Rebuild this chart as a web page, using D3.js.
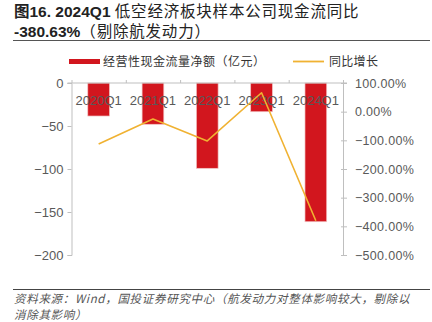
<!DOCTYPE html>
<html><head><meta charset="utf-8">
<script src="https://cdn.jsdelivr.net/npm/d3@7"></script>
<style>
html,body{margin:0;padding:0;background:#fff;}
svg{display:block;}
</style></head>
<body>
<svg id="c" width="432" height="322"></svg>
<script>
const categories = ["2020Q1","2021Q1","2022Q1","2023Q1","2024Q1"];
const cashFlow = [-38.4, -48, -99.2, -33.4, -161.3];      // 经营性现金流量净额（亿元）
const yoyGrowth = [-112.5, -25.4, -102, 66, -380.63];     // 同比增长 (%)
const leftTicks = [0, -50, -100, -150, -200];
const rightTicks = [100, 0, -100, -200, -300, -400, -500];
const legendLabels = ["经营性现金流量净额（亿元）", "同比增长"];
const titleLines = [["图16. 2024Q1", " 低空经济板块样本公司现金流同比"], ["-380.63%", "（剔除航发动力）"]];
const sourceLines = ["资料来源：Wind，国投证券研究中心（航发动力对整体影响较大，剔除以", "消除其影响）"];

const svg = d3.select("#c");
const FONT = "'Liberation Sans', Arial, 'Noto Sans CJK SC', sans-serif";
const CJK = "'Noto Sans CJK SC', sans-serif";
const AX = "#bfbfbf", TXT = "#595959";
const RED = "#d2161e", ORANGE = "#f0b232";

const plot = {left: 71.5, right: 343, top: 83, bottom: 255};

// Title
titleLines.forEach((ln, i) => {
  const t = svg.append("text").attr("x", 14).attr("y", 17 + i * 20)
    .attr("font-size", 15.5).attr("fill", "#222");
  t.append("tspan").attr("font-family", FONT).attr("font-weight", "bold").text(ln[0]);
  t.append("tspan").attr("font-family", CJK).attr("letter-spacing", 0.8).text(ln[1]);
});
svg.append("line").attr("x1", 13).attr("x2", 430).attr("y1", 40.5).attr("y2", 40.5)
  .attr("stroke", "#555").attr("stroke-width", 1.2);

// Scales
const x = d3.scaleBand().domain(categories).range([plot.left, plot.right])
  .paddingInner(0.6).paddingOuter(0.3);
const yL = d3.scaleLinear().domain([-200, 0]).range([plot.bottom, plot.top]);
const yR = d3.scaleLinear().domain([-500, 100]).range([plot.bottom, plot.top]);
const xb = d3.scaleLinear().domain([0, categories.length]).range([plot.left, plot.right]);

// Left axis
const gL = svg.append("g").attr("transform", `translate(${plot.left},0)`)
  .call(d3.axisLeft(yL).tickValues(leftTicks).tickSize(4).tickPadding(4));
gL.selectAll("path,line").attr("stroke", AX);
gL.selectAll("text").attr("font-family", FONT).attr("font-size", 13).attr("fill", TXT);

// Right axis
const gR = svg.append("g").attr("transform", `translate(${plot.right},0)`)
  .call(d3.axisRight(yR).tickValues(rightTicks).tickSize(4).tickPadding(8)
    .tickFormat(d => d3.format(".2f")(d) + "%"));
gR.selectAll("path,line").attr("stroke", AX);
gR.selectAll(".tick line").attr("x1", -2);
gR.selectAll("text").attr("font-family", FONT).attr("font-size", 12.5).attr("fill", TXT)
  .attr("letter-spacing", 0.3);

// Bars
svg.append("g").selectAll("rect").data(categories).join("rect")
  .attr("x", d => x(d))
  .attr("width", x.bandwidth())
  .attr("y", yL(0))
  .attr("height", (d, i) => yL(cashFlow[i]) - yL(0))
  .attr("fill", RED)
  .attr("stroke", "#f2c4c4").attr("stroke-width", 0.7);

// Category axis at zero (top)
const gX = svg.append("g").attr("transform", `translate(0,${yL(0)})`)
  .call(d3.axisTop(xb).tickValues(d3.range(categories.length + 1)).tickSize(3).tickFormat(""));
gX.selectAll("path,line").attr("stroke", AX);
gX.select("path").attr("d", `M${plot.left - 4},0H${plot.right + 4}`);

svg.append("g").selectAll("text").data(categories).join("text")
  .attr("x", d => x(d) + x.bandwidth() / 2)
  .attr("y", 104.5)
  .attr("text-anchor", "middle")
  .attr("font-family", FONT).attr("font-size", 13).attr("fill", TXT)
  .text(d => d);

// Line
const line = d3.line().x((d, i) => x(categories[i]) + x.bandwidth() / 2).y(d => yR(d));
svg.append("path").datum(yoyGrowth).attr("d", line)
  .attr("fill", "none").attr("stroke", ORANGE).attr("stroke-width", 1.6)
  .attr("stroke-linejoin", "round");

// Legend
svg.append("rect").attr("x", 69).attr("y", 59).attr("width", 31).attr("height", 5).attr("fill", RED);
svg.append("text").attr("x", 103).attr("y", 66).attr("font-family", CJK).attr("font-size", 12)
  .attr("letter-spacing", 0.5).attr("fill", "#333").text(legendLabels[0]);
svg.append("line").attr("x1", 293).attr("x2", 324).attr("y1", 61.5).attr("y2", 61.5)
  .attr("stroke", ORANGE).attr("stroke-width", 1.8);
svg.append("text").attr("x", 329).attr("y", 66).attr("font-family", CJK).attr("font-size", 12)
  .attr("letter-spacing", 0.3).attr("fill", "#333").text(legendLabels[1]);

// Source
svg.append("line").attr("x1", 13).attr("x2", 430).attr("y1", 289.5).attr("y2", 289.5)
  .attr("stroke", "#444").attr("stroke-width", 1.2);
sourceLines.forEach((s, i) => {
  svg.append("text").attr("x", 14).attr("y", 302.5 + i * 16)
    .attr("font-family", CJK).attr("font-size", 11.5).attr("font-style", "italic")
    .attr("letter-spacing", 0.7).attr("fill", "#555").text(s);
});
</script>
</body></html>
